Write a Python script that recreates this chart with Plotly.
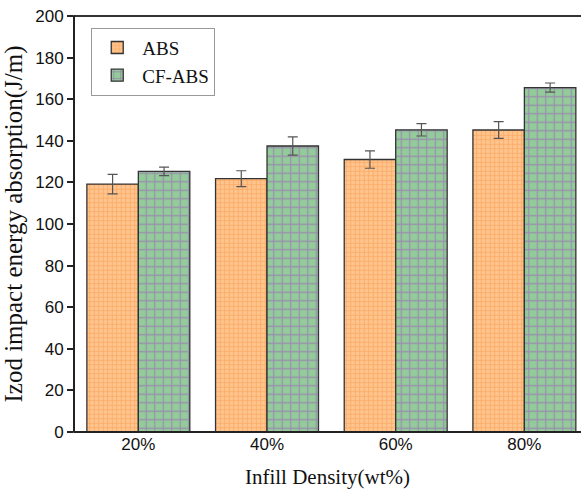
import plotly.graph_objects as go

categories = ["20%", "40%", "60%", "80%"]
abs_vals = [119.2, 121.8, 131.0, 145.2]
abs_err = [4.7, 3.8, 4.2, 4.0]
cf_vals = [125.3, 137.5, 145.3, 165.6]
cf_err = [2.0, 4.4, 3.0, 2.2]

fig = go.Figure()
fig.add_trace(go.Bar(
    name="ABS", x=categories, y=abs_vals,
    error_y=dict(type="data", array=abs_err, color="#555555", thickness=1.2, width=5),
    marker=dict(color="#FEC58E", line=dict(color="#333333", width=1.3),
                pattern=dict(shape="+", fgcolor="#F79444", bgcolor="#FEC58E", size=4.5, solidity=0.4)),
))
fig.add_trace(go.Bar(
    name="CF-ABS", x=categories, y=cf_vals,
    error_y=dict(type="data", array=cf_err, color="#555555", thickness=1.2, width=5),
    marker=dict(color="#93CB9A", line=dict(color="#333333", width=1.3),
                pattern=dict(shape="+", fgcolor="#A055C0", bgcolor="#93CB9A", size=8.5, solidity=0.26)),
))

fig.add_shape(type="line", xref="paper", yref="paper", x0=0, x1=1.05, y0=1, y1=1,
              line=dict(color="#333333", width=2))
fig.add_shape(type="line", xref="paper", yref="paper", x0=0, x1=1.05, y0=0, y1=0,
              line=dict(color="#222222", width=2))
fig.add_shape(type="line", xref="paper", yref="paper", x0=0, x1=0, y0=-0.002, y1=1.002,
              line=dict(color="#222222", width=2))

fig.update_layout(
    width=581, height=498,
    margin=dict(l=74, r=0, t=16, b=66),
    paper_bgcolor="white", plot_bgcolor="white",
    barmode="group", bargap=0.2, bargroupgap=0,
    showlegend=True,
    legend=dict(x=0.034, y=0.972, xanchor="left", yanchor="top",
                bordercolor="#999999", borderwidth=1, bgcolor="white",
                font=dict(family="Liberation Serif", size=19, color="#111111"),
                tracegroupgap=0, itemwidth=40),
    xaxis=dict(
        range=[-0.5, 3.44], showline=False, mirror=False,
        ticks="", showgrid=False, zeroline=False,
        tickfont=dict(family="Liberation Sans", size=17, color="#111111"),
        title=dict(text="Infill Density(wt%)", standoff=16,
                   font=dict(family="Liberation Serif", size=21, color="#111111")),
    ),
    yaxis=dict(
        range=[0, 200], dtick=20, showline=False, mirror=False,
        ticks="outside", ticklen=6, tickwidth=1.5, tickcolor="#222222", showgrid=False,
        zeroline=False,
        tickfont=dict(family="Liberation Sans", size=17, color="#111111"),
        title=dict(text="Izod impact energy absorption(J/m)", standoff=7,
                   font=dict(family="Liberation Serif", size=25, color="#111111")),
    ),
)

fig.write_html(
    "out.html",
    config={"displayModeBar": False},
    post_script="document.documentElement.style.overflow='hidden';document.body.style.overflow='hidden';document.body.style.margin='0';",
)
